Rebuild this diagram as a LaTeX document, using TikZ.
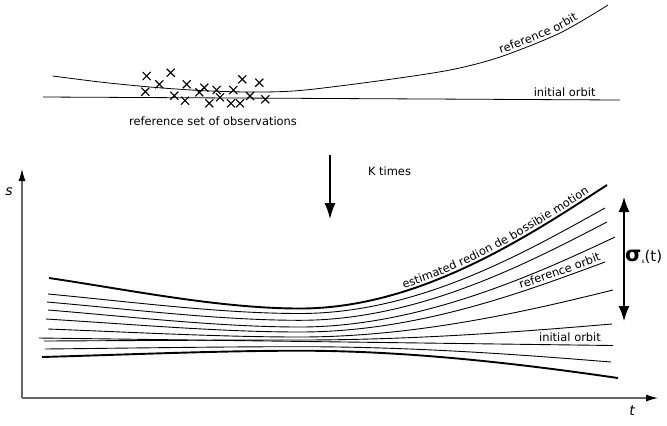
\documentclass[tikz,border=0pt]{standalone}
\usepackage{fontspec}
\setmainfont{DejaVu Sans}
\usetikzlibrary{arrows.meta,decorations.text,shapes.misc}
\begin{document}
\begin{tikzpicture}[x=1bp,y=-1bp,
  thinorb/.style={line width=0.9bp},
  thickorb/.style={line width=1.9bp},
  topcurve/.style={line width=0.8bp},
  lbl/.style={font=\fontsize{11.5}{13}\selectfont, inner sep=0pt},
  obs/.style={cross out, draw, minimum size=7bp, inner sep=0pt, line width=1.1bp},
  axis/.style={draw=black!60, line width=1.1bp, -{Latex[length=12bp,width=7bp,color=black]}},
  bigarrow/.style={line width=1.3bp, -{Latex[length=16bp,width=11bp]}},
  dblarrow/.style={line width=1.3bp, {Latex[length=15bp,width=11bp]}-{Latex[length=15bp,width=11bp]}},
  alongtxt/.style 2 args={postaction={decorate, decoration={text along path, raise=3bp, text align={right, right indent=#1}, text={|\fontsize{11.5}{13}\selectfont|#2}}}}
]
\useasboundingbox (0,0) rectangle (667,425);

% ---------- top panel ----------
\draw[topcurve, alongtxt={33bp}{reference orbit}] plot[smooth] coordinates {(52.7,76) (100,82) (150,87) (200,90.5) (250,92) (300,90.5) (380,80.7) (450,70) (500,57) (560,33) (608,5)};
\coordinate (iA) at (43,97);
\coordinate (iB) at (620,100);
\draw[topcurve] (iA) -- (iB);
\node[lbl] (initTop) at (564.7,92) {initial orbit};

\foreach \px/\py [count=\k] in {146.7/76, 170.7/72.7, 159.3/84.3, 145.3/91.7, 186.7/84.3, 174.3/95.7, 185/100.7, 199.3/92.3, 204.3/87.7, 216.7/90, 209.3/103.3, 220/97.3, 233.3/90, 242.3/79.3, 259.3/82.7, 250/96, 231/103.3, 240/103.3, 265.3/99.3}
  \node[obs] (o\k) at (\px,\py) {};
\node[lbl] (refset) at (213,121) {reference set of observations};

% ---------- K times arrow ----------
\coordinate (kA) at (330,155);
\coordinate (kB) at (330,219);
\draw[bigarrow] (kA) -- (kB);
\node[lbl] (ktimes) at (389.5,171) {K times};

% ---------- axes ----------
\coordinate (O) at (22,398);
\coordinate (Ytop) at (22,169);
\coordinate (Xend) at (658,398);
\draw[axis] (O) -- (Ytop);
\draw[axis] (O) -- (Xend);
\node[font=\fontsize{14}{14}\selectfont\itshape, inner sep=0pt] (slab) at (9,192) {s};
\node[font=\fontsize{14}{14}\selectfont\itshape, inner sep=0pt] (tlab) at (632,411) {t};

% ---------- bottom curves ----------
\draw[thickorb, alongtxt={19bp}{estimated redion de bossibie motion}]
  (49,278) .. controls (130,290) and (220,308.5) .. (300,308.5) .. controls (420,308.5) and (530,235) .. (607,185);
\draw[thinorb] (48,294) .. controls (130,301.7) and (220,313.5) .. (300,313.5) .. controls (420,313.5) and (528,250.7) .. (605,208);
\draw[thinorb] (47,302) .. controls (130,309.2) and (220,320.3) .. (300,320.3) .. controls (420,320.3) and (530,261.8) .. (607,222);
\draw[thinorb] (48,310) .. controls (130,316.7) and (220,327) .. (300,327) .. controls (420,327) and (538,273.4) .. (615,237);
\draw[thinorb, alongtxt={3bp}{reference orbit}]
  (46,319) .. controls (130,324.1) and (220,332) .. (300,332) .. controls (420,332) and (528,290.3) .. (605,262);
\draw[thinorb] (48,329) .. controls (130,332.1) and (220,337) .. (300,337) .. controls (420,337) and (536,309) .. (613,290);
\draw[thinorb] (44,341) .. controls (130,340.6) and (220,340) .. (300,340) .. controls (420,340) and (535,330.5) .. (612,324);
\coordinate (bA) at (39,338);
\coordinate (bB) at (613,345.5);
\draw[thinorb] (bA) -- (bB);
\node[lbl] (initBot) at (570,337) {initial orbit};
\draw[thinorb] (45,349) .. controls (130,348.1) and (220,346.7) .. (300,346.7) .. controls (420,346.7) and (534,355.8) .. (611,362);
\draw[thickorb] (42,357) .. controls (130,354.5) and (220,350.7) .. (300,350.7) .. controls (420,350.7) and (541,366.9) .. (618,378);

% ---------- sigma arrow ----------
\coordinate (sA) at (624,197);
\coordinate (sB) at (624,321);
\draw[dblarrow] (sA) -- (sB);
\node[anchor=west, inner sep=0pt] (sig) at (625,257) {{\fontsize{21}{21}\selectfont\bfseries σ}\raisebox{-2bp}{\fontsize{6}{6}\selectfont s}{\fontsize{15}{15}\selectfont (t)}};
\end{tikzpicture}
\end{document}
